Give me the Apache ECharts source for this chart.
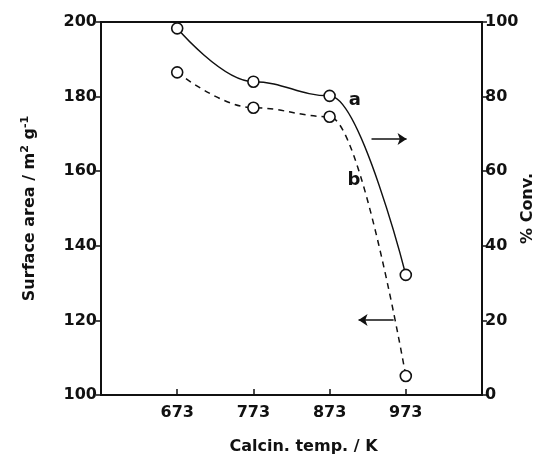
<!DOCTYPE html>
<html>
<head>
<meta charset="utf-8">
<script src="https://cdn.jsdelivr.net/npm/echarts@6/dist/echarts.min.js"></script>
<style>
  html, body { margin: 0; padding: 0; background: #fff; }
  #chart { width: 540px; height: 461px; }
</style>
</head>
<body>
<div id="chart"></div>
<script>
    // calcination temperature / K
    const temps = [673, 773, 873, 973];
    // curve a: % conversion (right axis)
    const convA = [98.3, 84.0, 80.2, 32.2];
    // curve b: surface area / m2 g-1 (left axis)
    const areaB = [186.5, 177.0, 174.6, 105.1];
    const xTicks = [673, 773, 873, 973];

    const font = 'DejaVu Sans';
    const ink = '#111';

    const chart = echarts.init(document.getElementById('chart'));
    const option = {
        animation: false,
        textStyle: { fontFamily: font, color: ink },
        grid: {
            left: 101, right: 58, top: 22, bottom: 66,
            containLabel: false,
            outerBoundsMode: 'none',
            show: true, borderColor: ink, borderWidth: 2
        },
        xAxis: {
            type: 'value',
            min: 573, max: 1073, interval: 100,
            name: 'Calcin. temp. / K',
            nameLocation: 'middle',
            nameGap: 44,
            nameTextStyle: { fontFamily: font, fontSize: 16, fontWeight: 'bold', color: ink, padding: [0, 0, 0, 24] },
            axisLine: { lineStyle: { color: ink, width: 2 } },
            axisTick: { inside: true, length: 6, lineStyle: { color: ink, width: 1.5 } },
            axisLabel: {
                fontFamily: font, fontSize: 16, fontWeight: 'bold', color: ink, margin: 10,
                formatter: v => xTicks.indexOf(v) >= 0 ? String(v) : ''
            },
            splitLine: { show: false }
        },
        yAxis: [
            {
                type: 'value',
                min: 100, max: 200, interval: 20,
                name: 'Surface area / m{sup|2} g{sup|-1}',
                nameLocation: 'middle',
                nameGap: 62,
                nameRotate: 90,
                nameTextStyle: {
                    fontFamily: font, fontSize: 16, fontWeight: 'bold', color: ink,
                    rich: { sup: { fontFamily: font, fontSize: 11, fontWeight: 'bold', color: ink, verticalAlign: 'top', padding: [0, 0, 8, 0] } }
                },
                axisLine: { show: true, lineStyle: { color: ink, width: 2 } },
                axisTick: { show: true, length: 5, lineStyle: { color: ink, width: 1.5 } },
                axisLabel: { fontFamily: font, fontSize: 16, fontWeight: 'bold', color: ink, margin: 4 },
                splitLine: { show: false }
            },
            {
                type: 'value',
                min: 0, max: 100, interval: 20,
                position: 'right',
                name: '% Conv.',
                nameLocation: 'middle',
                nameGap: 38,
                nameRotate: 90,
                nameMoveOverlap: false,
                nameTextStyle: { fontFamily: font, fontSize: 16, fontWeight: 'bold', color: ink },
                axisLine: { show: true, lineStyle: { color: ink, width: 2 } },
                axisTick: { show: true, length: 5, lineStyle: { color: ink, width: 1.5 } },
                axisLabel: { fontFamily: font, fontSize: 16, fontWeight: 'bold', color: ink, margin: 3 },
                splitLine: { show: false }
            }
        ],
        series: [
            {
                name: 'a',
                type: 'line',
                yAxisIndex: 1,
                data: temps.map((t, i) => [t, convA[i]]),
                smooth: 0.4,
                smoothMonotone: 'x',
                symbol: 'circle',
                symbolSize: 11,
                itemStyle: { color: '#fff', borderColor: ink, borderWidth: 1.6 },
                lineStyle: { color: ink, width: 1.5, type: 'solid' },
                markLine: {
                    silent: true,
                    symbol: ['none', 'arrow'],
                    symbolSize: 9,
                    label: { show: false },
                    lineStyle: { color: ink, width: 1.5, type: 'solid' },
                    data: [[{ coord: [928, 68.6] }, { coord: [974, 68.6] }]]
                },
                markPoint: {
                    silent: true,
                    symbol: 'rect',
                    symbolSize: 1,
                    itemStyle: { color: 'rgba(0,0,0,0)', borderWidth: 0 },
                    label: { show: true, position: 'inside', formatter: 'a', fontFamily: font, fontSize: 18, fontWeight: 'bold', color: ink },
                    data: [{ coord: [906, 79] }]
                }
            },
            {
                name: 'b',
                type: 'line',
                yAxisIndex: 0,
                data: temps.map((t, i) => [t, areaB[i]]),
                smooth: 0.4,
                smoothMonotone: 'x',
                symbol: 'circle',
                symbolSize: 11,
                itemStyle: { color: '#fff', borderColor: ink, borderWidth: 1.6 },
                lineStyle: { color: ink, width: 1.5, type: [6, 5] },
                markLine: {
                    silent: true,
                    symbol: ['arrow', 'none'],
                    symbolSize: 9,
                    label: { show: false },
                    lineStyle: { color: ink, width: 1.5, type: 'solid' },
                    data: [[{ coord: [911, 120.1] }, { coord: [957, 120.1] }]]
                },
                markPoint: {
                    silent: true,
                    symbol: 'rect',
                    symbolSize: 1,
                    itemStyle: { color: 'rgba(0,0,0,0)', borderWidth: 0 },
                    label: { show: true, position: 'inside', formatter: 'b', fontFamily: font, fontSize: 18, fontWeight: 'bold', color: ink },
                    data: [{ coord: [905, 157.6] }]
                }
            }
        ]
    };
    chart.setOption(option);
</script>
</body>
</html>
